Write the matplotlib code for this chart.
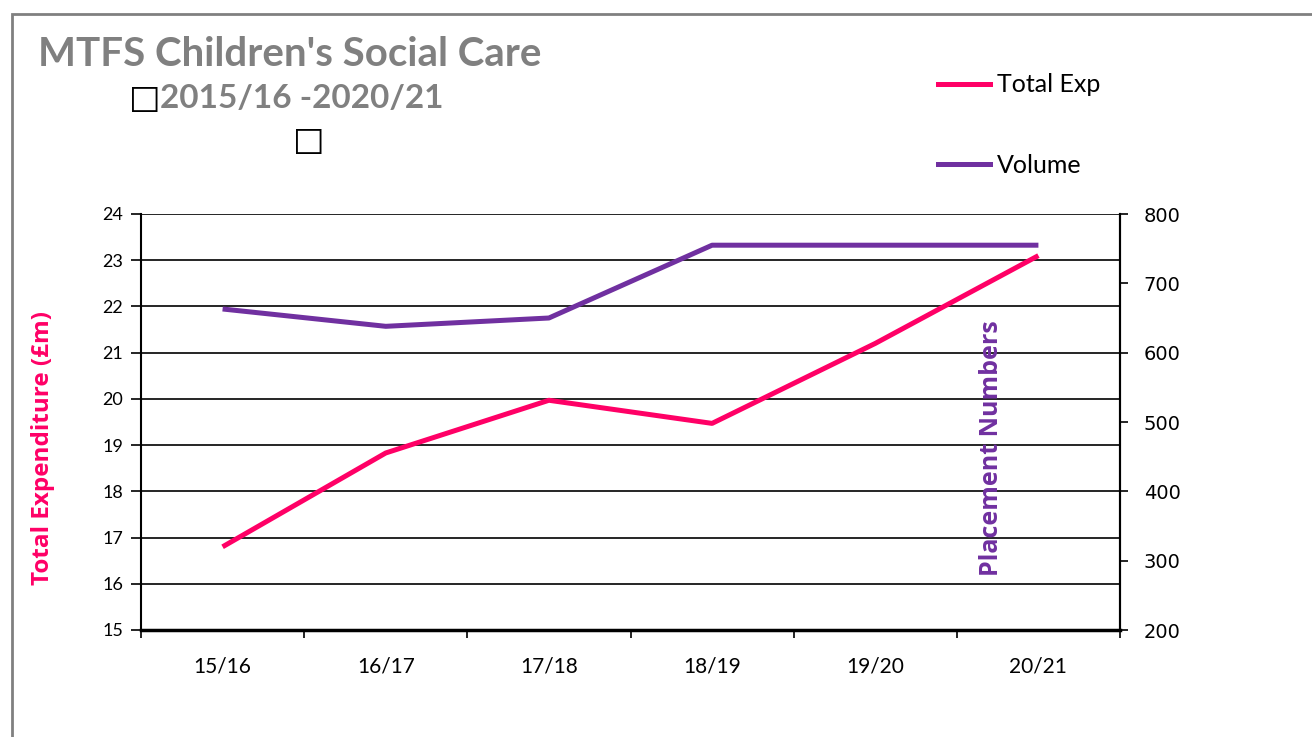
import numpy as np
import matplotlib.pyplot as plt
from matplotlib.patches import Rectangle
from matplotlib.lines import Line2D

# Values
years = ['15/16', '16/17', '17/18', '18/19', '19/20', '20/21']
total_exp = [16.8, 18.83, 19.97, 19.47, 21.2, 23.1]    # £m, left axis
volume = [663, 638, 650, 755, 755, 755]               # placements, right axis

pink = '#FF0066'
purple = '#7030A0'
grey = '#808080'
body_font = 'Lato'

fig = plt.figure(figsize=(13.12, 7.37), dpi=100)
W, H = 1312, 737

# grey frame around the chart area (runs off the right and bottom edges)
fig.patches.append(Rectangle((12 / W, -0.1), 1.2, 1 - 14 / H + 0.1,
                             transform=fig.transFigure, fill=False,
                             edgecolor=grey, linewidth=2))

ax = fig.add_axes([141 / W, 1 - 630 / H, (1120 - 141) / W, (630 - 214) / H])
x = np.arange(len(years))

ax.plot(x, total_exp, color=pink, linewidth=3.6, solid_capstyle='butt')
ax.set_xlim(-0.5, len(years) - 0.5)
ax.set_ylim(15, 24)
ax.set_yticks(np.arange(15, 25, 1))
ax.yaxis.grid(True, color='black', linewidth=1.2)
ax.set_axisbelow(True)
ax.set_xticks(x)
ax.set_xticklabels(years, fontsize=15, family=body_font)
ax.set_xticks(np.arange(-0.5, len(years), 1), minor=True)
ax.tick_params(axis='x', which='major', length=0, pad=19)
ax.tick_params(axis='x', which='minor', length=6, width=1.2, direction='out')
ax.tick_params(axis='y', labelsize=13, length=7, width=1.2, pad=6)
for lbl in ax.get_yticklabels():
    lbl.set_family(body_font)
for side in ['left', 'right', 'bottom']:
    ax.spines[side].set_linewidth(1.5)
ax.spines['bottom'].set_linewidth(2.5)
ax.spines['top'].set_visible(False)
ax.set_ylabel('Total Expenditure (£m)', color=pink, fontsize=17.5,
              fontweight='bold', family='Open Sans')
ax.yaxis.set_label_coords(-0.088, 0.4375)

ax2 = ax.twinx()
ax2.plot(x, volume, color=purple, linewidth=3.6, solid_capstyle='butt')
ax2.set_ylim(200, 800)
ax2.set_yticks(np.arange(200, 801, 100))
ax2.tick_params(axis='y', labelsize=14, length=6, width=1.2, pad=11)
for lbl in ax2.get_yticklabels():
    lbl.set_family('DejaVu Sans')
for side in ['left', 'right', 'bottom', 'top']:
    ax2.spines[side].set_visible(False)
ax2.spines['right'].set_visible(True)
ax2.spines['right'].set_linewidth(1.5)
ax2.text(0.869, 0.4375, 'Placement Numbers', transform=ax2.transAxes,
         rotation=90, ha='center', va='center', color=purple,
         fontsize=18, fontweight='bold', family='Open Sans')

# Title with the two stray missing-glyph boxes
fig.text(38 / W, 1 - 55 / H, "MTFS Children's Social Care", color=grey,
         fontsize=29, fontweight='bold', family=body_font, va='center')
fig.text(129 / W, 1 - 98 / H, '\u25a1', color='black', fontsize=24,
         family='DejaVu Sans', va='center')
fig.text(160 / W, 1 - 98 / H, '2015/16 -2020/21', color=grey,
         fontsize=24, fontweight='bold', family=body_font, va='center')
fig.text(293 / W, 1 - 140 / H, '\u25a1', color='black', fontsize=24,
         family='DejaVu Sans', va='center')

# Legend at the upper right
handles = [Line2D([], [], color=pink, linewidth=3.6),
           Line2D([], [], color=purple, linewidth=3.6)]
fig.legend(handles, ['Total Exp', 'Volume'], loc='upper left',
           bbox_to_anchor=(916 / W, 1 - 51 / H), frameon=False,
           prop={'family': body_font, 'size': 18}, labelspacing=2.3,
           handlelength=2.05, handletextpad=0.3)

fig.savefig('out.png', dpi=100)
